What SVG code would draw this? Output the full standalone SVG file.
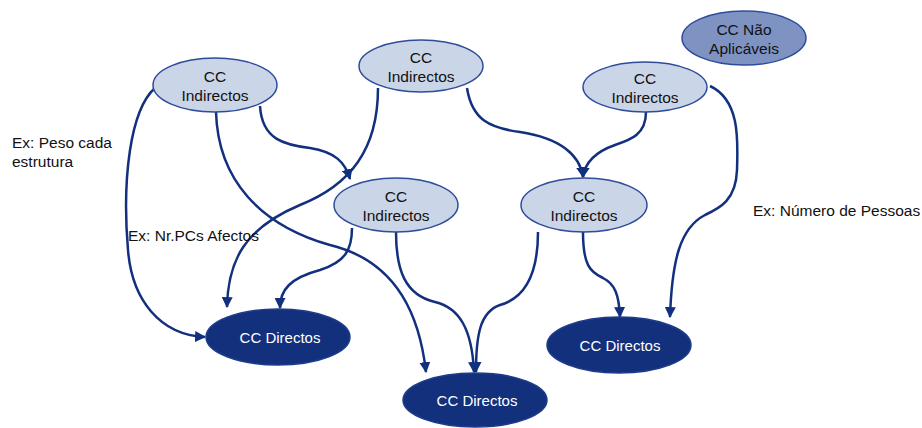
<svg xmlns="http://www.w3.org/2000/svg" width="922" height="428" viewBox="0 0 922 428">
<defs>
<marker id="arr" viewBox="0 0 10 10" refX="9" refY="5" markerWidth="4.4" markerHeight="4.4" orient="auto" markerUnits="strokeWidth">
<path d="M0,0 L10,5 L0,10 z" fill="#12307e"/>
</marker>
</defs>
<style>
.ind{fill:#cbd5e8;stroke:#2d4c9a;stroke-width:1.5}
.na{fill:#7f93c3;stroke:#2d4c9a;stroke-width:1.5}
.dir{fill:#13307d;stroke:#1e3c8c;stroke-width:1.5}
.t{font-family:"Liberation Sans",Arial,sans-serif;font-size:15.5px;fill:#111;text-anchor:middle}
.tw{font-family:"Liberation Sans",Arial,sans-serif;font-size:15px;fill:#fff;text-anchor:middle}
.lab{font-family:"Liberation Sans",Arial,sans-serif;font-size:15.5px;fill:#111}
.c{fill:none;stroke:#12307e;stroke-width:2.5;marker-end:url(#arr)}
</style>
<rect width="922" height="428" fill="#fff"/>
<g id="connectors">
<path class="c" d="M155,88 C130,110 122,180 128,250 C132,300 160,335 205,337"/>
<path class="c" d="M216,112 C218,180 260,225 330,245 C400,262 420,320 426,372"/>
<path class="c" d="M260,106 C262,140 285,145 310,148 C335,152 345,162 350,179"/>
<path class="c" d="M378,88 C378,150 350,185 300,205 C245,228 228,260 227,307"/>
<path class="c" d="M467,88 C472,120 490,128 520,132 C560,138 580,155 583,177"/>
<path class="c" d="M646,112 C646,135 630,140 615,145 C595,152 585,162 583,177"/>
<path class="c" d="M710,86 C740,100 738,140 737,170 C736,200 720,208 705,215 C680,228 672,260 670,317"/>
<path class="c" d="M352,228 C352,250 345,262 320,270 C290,278 280,290 280,308"/>
<path class="c" d="M396,232 C396,270 405,295 435,302 C460,308 472,330 474,372"/>
<path class="c" d="M538,232 C538,275 525,298 500,305 C480,312 476,335 476,372"/>
<path class="c" d="M583,232 C583,265 590,272 603,278 C615,284 619,295 620,317"/>
</g>
<g id="n0"><ellipse class="na" cx="744" cy="38" rx="62" ry="27"/><text class="t" x="744" y="35">CC Não</text><text class="t" x="744" y="54">Aplicáveis</text></g>
<g id="n1"><ellipse class="ind" cx="215" cy="85" rx="62" ry="27"/><text class="t" x="215" y="82">CC</text><text class="t" x="215" y="101">Indirectos</text></g>
<g id="n2"><ellipse class="ind" cx="421" cy="66" rx="62" ry="26"/><text class="t" x="421" y="63">CC</text><text class="t" x="421" y="82">Indirectos</text></g>
<g id="n3"><ellipse class="ind" cx="645" cy="87" rx="62" ry="25"/><text class="t" x="645" y="84">CC</text><text class="t" x="645" y="103">Indirectos</text></g>
<g id="n4"><ellipse class="ind" cx="396" cy="205" rx="62" ry="27"/><text class="t" x="396" y="202">CC</text><text class="t" x="396" y="221">Indirectos</text></g>
<g id="n5"><ellipse class="ind" cx="584" cy="205" rx="63" ry="27"/><text class="t" x="584" y="202">CC</text><text class="t" x="584" y="221">Indirectos</text></g>
<g id="d1"><ellipse class="dir" cx="278" cy="337" rx="72" ry="28"/><text class="tw" x="280" y="343">CC Directos</text></g>
<g id="d2"><ellipse class="dir" cx="475" cy="400" rx="72" ry="27"/><text class="tw" x="477" y="406">CC Directos</text></g>
<g id="d3"><ellipse class="dir" cx="619" cy="345" rx="72" ry="28"/><text class="tw" x="620" y="351">CC Directos</text></g>
<g id="labels">
<text class="lab" x="12" y="148">Ex: Peso cada</text>
<text class="lab" x="12" y="167">estrutura</text>
<text class="lab" x="128" y="241">Ex: Nr.PCs Afectos</text>
<text class="lab" x="753" y="216">Ex: Número de Pessoas</text>
</g>
</svg>
